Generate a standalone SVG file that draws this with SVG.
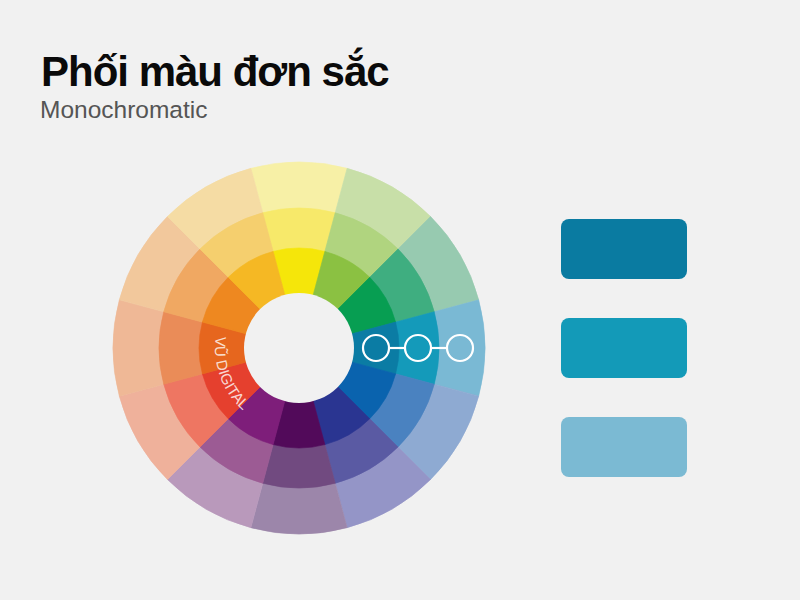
<svg xmlns="http://www.w3.org/2000/svg" xmlns:xlink="http://www.w3.org/1999/xlink" width="800" height="600" viewBox="0 0 800 600">
  <style>
    .title { font-family: "Liberation Sans", Arial, sans-serif; font-weight: bold; font-size: 42px; fill: #0a0a0a; letter-spacing: -1px; }
    .sub { font-family: "Liberation Sans", Arial, sans-serif; font-size: 24.5px; fill: #555555; }
    .brand { font-family: "Liberation Sans", Arial, sans-serif; font-size: 15px; fill: #ffffff; fill-opacity: 0.8; }
    .ring { fill: none; stroke: #ffffff; stroke-width: 2.2; }
    .link { stroke: #ffffff; stroke-width: 2.2; }
  </style>
  <defs>
    <path id="w186" d="M0 0 L-48.14 -179.66 A186 186 0 0 1 48.14 -179.66 Z" fill="currentColor" stroke="currentColor" stroke-width="0.6"/>
    <path id="w140" d="M0 0 L-36.23 -135.23 A140 140 0 0 1 36.23 -135.23 Z" fill="currentColor" stroke="currentColor" stroke-width="0.6"/>
    <path id="w100" d="M0 0 L-25.88 -96.59 A100 100 0 0 1 25.88 -96.59 Z" fill="currentColor" stroke="currentColor" stroke-width="0.6"/>
    <path id="brandPath" d="M215.8 336.3 A84 84 0 0 0 257 420.7"/>
  </defs>

  <rect width="800" height="600" fill="#f1f1f1"/>

  <g id="title">
    <text class="title" x="41" y="86">Phối màu đơn sắc</text>
    <text class="sub" x="40" y="118">Monochromatic</text>
  </g>

  <g id="wheel" transform="translate(299 348)">
    <g id="outer-ring">
      <use xlink:href="#w186" href="#w186" color="#f7f0a6" transform="rotate(0)"/>
      <use xlink:href="#w186" href="#w186" color="#c8dfa8" transform="rotate(30)"/>
      <use xlink:href="#w186" href="#w186" color="#97cab0" transform="rotate(60)"/>
      <use xlink:href="#w186" href="#w186" color="#7ab9d4" transform="rotate(90)"/>
      <use xlink:href="#w186" href="#w186" color="#8eaad2" transform="rotate(120)"/>
      <use xlink:href="#w186" href="#w186" color="#9495c7" transform="rotate(150)"/>
      <use xlink:href="#w186" href="#w186" color="#9c86aa" transform="rotate(180)"/>
      <use xlink:href="#w186" href="#w186" color="#b999bb" transform="rotate(210)"/>
      <use xlink:href="#w186" href="#w186" color="#efb19b" transform="rotate(240)"/>
      <use xlink:href="#w186" href="#w186" color="#efb896" transform="rotate(270)"/>
      <use xlink:href="#w186" href="#w186" color="#f2c89c" transform="rotate(300)"/>
      <use xlink:href="#w186" href="#w186" color="#f5dca4" transform="rotate(330)"/>
    </g>
    <g id="middle-ring">
      <use xlink:href="#w140" href="#w140" color="#f7e96a" transform="rotate(0)"/>
      <use xlink:href="#w140" href="#w140" color="#b0d47f" transform="rotate(30)"/>
      <use xlink:href="#w140" href="#w140" color="#3fae80" transform="rotate(60)"/>
      <use xlink:href="#w140" href="#w140" color="#149aba" transform="rotate(90)"/>
      <use xlink:href="#w140" href="#w140" color="#4a82c0" transform="rotate(120)"/>
      <use xlink:href="#w140" href="#w140" color="#5a5aa3" transform="rotate(150)"/>
      <use xlink:href="#w140" href="#w140" color="#714a80" transform="rotate(180)"/>
      <use xlink:href="#w140" href="#w140" color="#9c5b94" transform="rotate(210)"/>
      <use xlink:href="#w140" href="#w140" color="#ee7662" transform="rotate(240)"/>
      <use xlink:href="#w140" href="#w140" color="#ea8c58" transform="rotate(270)"/>
      <use xlink:href="#w140" href="#w140" color="#f0a862" transform="rotate(300)"/>
      <use xlink:href="#w140" href="#w140" color="#f5cf6e" transform="rotate(330)"/>
    </g>
    <g id="inner-ring">
      <use xlink:href="#w100" href="#w100" color="#f5e60a" transform="rotate(0)"/>
      <use xlink:href="#w100" href="#w100" color="#8bc142" transform="rotate(30)"/>
      <use xlink:href="#w100" href="#w100" color="#079e52" transform="rotate(60)"/>
      <use xlink:href="#w100" href="#w100" color="#0b7ca4" transform="rotate(90)"/>
      <use xlink:href="#w100" href="#w100" color="#0a63ae" transform="rotate(120)"/>
      <use xlink:href="#w100" href="#w100" color="#2a3591" transform="rotate(150)"/>
      <use xlink:href="#w100" href="#w100" color="#520a5a" transform="rotate(180)"/>
      <use xlink:href="#w100" href="#w100" color="#7e1e7a" transform="rotate(210)"/>
      <use xlink:href="#w100" href="#w100" color="#e5402e" transform="rotate(240)"/>
      <use xlink:href="#w100" href="#w100" color="#e6661e" transform="rotate(270)"/>
      <use xlink:href="#w100" href="#w100" color="#ee8820" transform="rotate(300)"/>
      <use xlink:href="#w100" href="#w100" color="#f5b824" transform="rotate(330)"/>
    </g>
    <circle id="hole" cx="0" cy="0" r="55" fill="#f1f1f1"/>
  </g>

  <g id="brand">
    <text class="brand"><textPath xlink:href="#brandPath" href="#brandPath">VŨ DIGITAL</textPath></text>
  </g>

  <g id="connectors">
    <line class="link" x1="389" y1="348" x2="405" y2="348"/>
    <line class="link" x1="431" y1="348" x2="447" y2="348"/>
  </g>

  <g id="node-1"><circle class="ring" cx="376" cy="348" r="13"/></g>
  <g id="node-2"><circle class="ring" cx="418" cy="348" r="13"/></g>
  <g id="node-3"><circle class="ring" cx="460" cy="348" r="13"/></g>

  <g id="swatch-1"><rect x="561" y="219" width="126" height="60" rx="8" fill="#0a7ba1"/></g>
  <g id="swatch-2"><rect x="561" y="318" width="126" height="60" rx="8" fill="#139ab8"/></g>
  <g id="swatch-3"><rect x="561" y="417" width="126" height="60" rx="8" fill="#7bbad3"/></g>
</svg>
